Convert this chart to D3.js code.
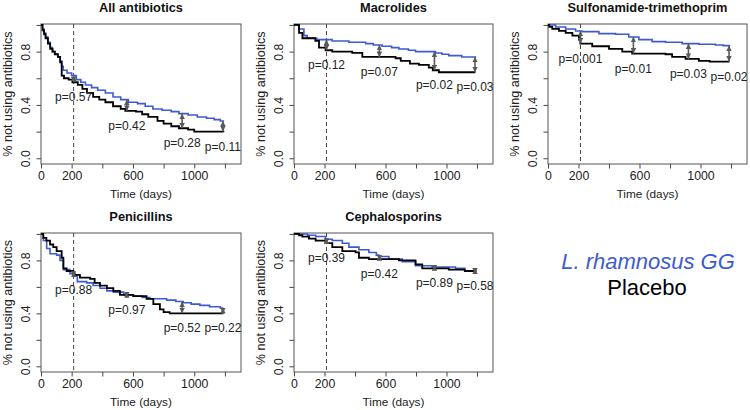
<!DOCTYPE html>
<html>
<head>
<meta charset="utf-8">
<script src="https://cdn.jsdelivr.net/npm/d3@7"></script>
<style>
  html, body { margin: 0; padding: 0; background: #fff; }
  svg { display: block; font-family: "Liberation Sans", Arial, Helvetica, sans-serif; }
</style>
</head>
<body>
<svg id="chart" width="750" height="410"></svg>
<script>
// ---------------- DATA ----------------
const categories = ["All antibiotics", "Macrolides", "Sulfonamide-trimethoprim", "Penicillins", "Cephalosporins"];
const seriesNames = ["L. rhamnosus GG", "Placebo"];

// Kaplan-Meier steps [day, proportion not using antibiotics]
const lggAll = [[0,1],[10,0.97],[20,0.94],[30,0.91],[45,0.87],[60,0.83],[75,0.80],[90,0.78],[110,0.76],[125,0.73],[135,0.69],[145,0.66],[170,0.64],[200,0.62],[230,0.59],[260,0.57],[290,0.55],[330,0.53],[370,0.51],[420,0.49],[470,0.46],[520,0.44],[570,0.42],[630,0.41],[680,0.39],[730,0.37],[790,0.36],[850,0.35],[900,0.335],[960,0.325],[1020,0.31],[1080,0.30],[1130,0.29],[1170,0.28],[1190,0.275]];
const placeboAll = [[0,1],[10,0.96],[20,0.93],[30,0.90],[45,0.86],[60,0.82],[75,0.80],[90,0.78],[110,0.76],[125,0.72],[135,0.62],[150,0.60],[180,0.59],[205,0.57],[240,0.55],[270,0.52],[300,0.49],[340,0.46],[380,0.44],[420,0.42],[470,0.39],[520,0.37],[550,0.355],[620,0.35],[660,0.33],[700,0.31],[760,0.28],[800,0.26],[850,0.24],[900,0.225],[960,0.215],[1000,0.20],[1190,0.195]];

const lggMac = [[0,1],[33,0.97],[65,0.92],[87,0.90],[150,0.89],[250,0.88],[360,0.87],[470,0.86],[520,0.85],[578,0.84],[640,0.83],[688,0.82],[750,0.81],[797,0.80],[928,0.79],[970,0.78],[1015,0.77],[1100,0.76],[1190,0.755]];
const placeboMac = [[0,1],[33,0.94],[55,0.90],[140,0.88],[164,0.83],[207,0.81],[251,0.80],[382,0.79],[448,0.76],[666,0.75],[700,0.73],[760,0.71],[819,0.70],[884,0.68],[910,0.66],[950,0.645],[1190,0.645]];

const lggSul = [[0,1],[50,0.985],[116,0.97],[181,0.955],[225,0.95],[334,0.935],[443,0.93],[530,0.91],[596,0.89],[683,0.875],[771,0.87],[880,0.86],[989,0.855],[1098,0.85],[1150,0.845],[1190,0.84]];
const placeboSul = [[0,1],[8,0.985],[28,0.97],[72,0.955],[116,0.94],[160,0.92],[203,0.89],[212,0.86],[290,0.84],[400,0.82],[487,0.80],[552,0.785],[771,0.78],[814,0.76],[902,0.745],[989,0.73],[1060,0.725],[1190,0.725]];

const lggPen = [[0,1],[15,0.95],[37,0.89],[59,0.85],[102,0.84],[124,0.80],[146,0.73],[189,0.70],[222,0.68],[237,0.64],[298,0.63],[340,0.61],[385,0.59],[430,0.57],[472,0.56],[540,0.54],[602,0.53],[660,0.52],[711,0.51],[820,0.50],[880,0.49],[928,0.48],[980,0.47],[1037,0.46],[1100,0.45],[1170,0.44],[1190,0.44]];
const placeboPen = [[0,1],[15,0.97],[35,0.95],[59,0.92],[80,0.90],[102,0.87],[135,0.82],[146,0.74],[167,0.72],[211,0.69],[254,0.67],[320,0.66],[350,0.63],[385,0.61],[430,0.59],[472,0.57],[515,0.54],[602,0.53],[689,0.51],[733,0.47],[776,0.43],[800,0.41],[840,0.40],[1190,0.40]];

const lggCep = [[0,1],[90,0.99],[142,0.98],[207,0.96],[251,0.95],[317,0.93],[360,0.90],[426,0.88],[491,0.86],[540,0.84],[557,0.83],[622,0.81],[710,0.79],[797,0.76],[906,0.75],[1059,0.74],[1120,0.72],[1190,0.71]];
const placeboCep = [[0,1],[33,0.99],[55,0.98],[98,0.965],[142,0.95],[207,0.93],[251,0.90],[317,0.87],[404,0.86],[426,0.82],[491,0.81],[688,0.80],[797,0.77],[841,0.74],[1015,0.73],[1120,0.72],[1190,0.71]];

const lggSeries = [lggAll, lggMac, lggSul, lggPen, lggCep];
const placeboSeries = [placeboAll, placeboMac, placeboSul, placeboPen, placeboCep];

// comparison times (days) and p-values
const compareTimes = [213, 560, 921, 1187];
const referenceDay = 213;
const pAll = ["0.57", "0.42", "0.28", "0.11"];
const pMac = ["0.12", "0.07", "0.02", "0.03"];
const pSul = ["0.001", "0.01", "0.03", "0.02"];
const pPen = ["0.88", "0.97", "0.52", "0.22"];
const pCep = ["0.39", "0.42", "0.89", "0.58"];
const pSeries = [pAll, pMac, pSul, pPen, pCep];

// axis ticks
const xTicks = [0, 200, 400, 600, 800, 1000, 1200];
const xTickLabels = ["0", "200", "", "600", "", "1000", ""];
const yTicks = [0, 0.2, 0.4, 0.6, 0.8, 1.0];
const yTickLabels = ["0.0", "", "0.4", "", "0.8", ""];
const xTitle = "Time (days)";
const yTitle = "% not using antibiotics";

// ---------------- LAYOUT ----------------
const panels = [
  { x: 41,  y: 24,  w: 200, h: 140 },
  { x: 294, y: 24,  w: 199, h: 140 },
  { x: 548, y: 24,  w: 199, h: 140 },
  { x: 41,  y: 233, w: 200, h: 139 },
  { x: 294, y: 233, w: 199, h: 139 }
];
const BLUE = "#3d5bd0";
const TICKFONT = 12.3;
const FONT = 11.8;

const svg = d3.select("#chart");
const defs = svg.append("defs");
function marker(id, orient) {
  defs.append("marker")
    .attr("id", id).attr("viewBox", "0 0 10 10")
    .attr("refX", 10).attr("refY", 5)
    .attr("markerWidth", 5.5).attr("markerHeight", 5.5)
    .attr("markerUnits", "userSpaceOnUse")
    .attr("orient", orient)
    .append("path").attr("d", "M0,0 L10,5 L0,10 Z").attr("fill", "#5a5a5a");
}
marker("arrowEnd", "auto");
marker("arrowStart", "auto-start-reverse");

function stepValue(series, t) {
  let v = series[0][1];
  for (const [d, s] of series) { if (d <= t) v = s; else break; }
  return v;
}

panels.forEach((p, i) => {
  const g = svg.append("g");
  const x = d3.scaleLinear().domain([0, 1305]).range([p.x, p.x + p.w]);
  const y = d3.scaleLinear().domain([-0.043, 1.007]).range([p.y + p.h, p.y]);

  // title
  g.append("text").attr("x", p.x + p.w / 2).attr("y", p.y - 12.5)
    .attr("text-anchor", "middle").attr("font-weight", "bold")
    .attr("font-size", 12.8).attr("fill", "#111").text(categories[i]);

  // x axis
  const xAxis = d3.axisBottom(x).tickValues(xTicks).tickSize(4.5)
    .tickFormat((d, k) => xTickLabels[k]);
  const gx = g.append("g").attr("transform", `translate(0,${p.y + p.h})`).call(xAxis);
  gx.select(".domain").remove();
  gx.selectAll(".tick line").attr("stroke", "#444");
  gx.selectAll(".tick text").attr("font-size", TICKFONT).attr("fill", "#222")
    .attr("font-family", "Liberation Sans, Arial, sans-serif").attr("dy", "0").attr("y", 15.5);

  // y axis
  const yAxis = d3.axisLeft(y).tickValues(yTicks).tickSize(4.5)
    .tickFormat((d, k) => yTickLabels[k]);
  const gy = g.append("g").attr("transform", `translate(${p.x},0)`).call(yAxis);
  gy.select(".domain").remove();
  gy.selectAll(".tick line").attr("stroke", "#444");
  gy.selectAll(".tick text").attr("font-size", TICKFONT).attr("fill", "#222")
    .attr("font-family", "Liberation Sans, Arial, sans-serif")
    .attr("x", null).attr("dy", null)
    .attr("text-anchor", "middle")
    .attr("transform", "translate(-11,0) rotate(-90)");

  // axis titles
  g.append("text").attr("x", p.x + p.w / 2).attr("y", p.y + p.h + 33.5)
    .attr("text-anchor", "middle").attr("font-size", FONT).attr("fill", "#222").text(xTitle);
  g.append("text")
    .attr("transform", `translate(${p.x - 29.5},${p.y + p.h / 2}) rotate(-90)`)
    .attr("text-anchor", "middle").attr("font-size", 12.6).attr("fill", "#222").text(yTitle);

  // box
  g.append("rect").attr("x", p.x).attr("y", p.y).attr("width", p.w).attr("height", p.h)
    .attr("fill", "none").attr("stroke", "#555").attr("stroke-width", 1);

  // reference dashed line
  g.append("line").attr("x1", x(referenceDay)).attr("x2", x(referenceDay))
    .attr("y1", p.y).attr("y2", p.y + p.h)
    .attr("stroke", "#444").attr("stroke-width", 1).attr("stroke-dasharray", "4,3");

  // curves
  const line = d3.line().x(d => x(d[0])).y(d => y(d[1])).curve(d3.curveStepAfter);
  g.append("path").datum(lggSeries[i]).attr("d", line)
    .attr("fill", "none").attr("stroke", BLUE).attr("stroke-width", 1.6);
  g.append("path").datum(placeboSeries[i]).attr("d", line)
    .attr("fill", "none").attr("stroke", "#000").attr("stroke-width", 1.8);

  // comparison arrows + p-values
  compareTimes.forEach((t, k) => {
    const a = stepValue(lggSeries[i], t);
    const b = stepValue(placeboSeries[i], t);
    const hi = Math.max(a, b), lo = Math.min(a, b);
    let y1 = y(hi), y2 = y(lo);
    if (y2 - y1 < 4) { const m = (y1 + y2) / 2; y1 = m - 2.5; y2 = m + 2.5; }
    g.append("line").attr("x1", x(t)).attr("x2", x(t)).attr("y1", y1).attr("y2", y2)
      .attr("stroke", "#5a5a5a").attr("stroke-width", 1.6)
      .attr("marker-start", "url(#arrowStart)").attr("marker-end", "url(#arrowEnd)");
    g.append("text").attr("x", x(t)).attr("y", y(lo) + 19)
      .attr("text-anchor", "middle").attr("font-size", 12).attr("fill", "#222")
      .text("p=" + pSeries[i][k]);
  });
});

// legend
svg.append("text").attr("x", 648).attr("y", 269).attr("text-anchor", "middle")
  .attr("font-size", 22).attr("font-style", "italic").attr("fill", BLUE).text(seriesNames[0]);
svg.append("text").attr("x", 647).attr("y", 294.5).attr("text-anchor", "middle")
  .attr("font-size", 22).attr("fill", "#000").text(seriesNames[1]);
</script>
</body>
</html>
